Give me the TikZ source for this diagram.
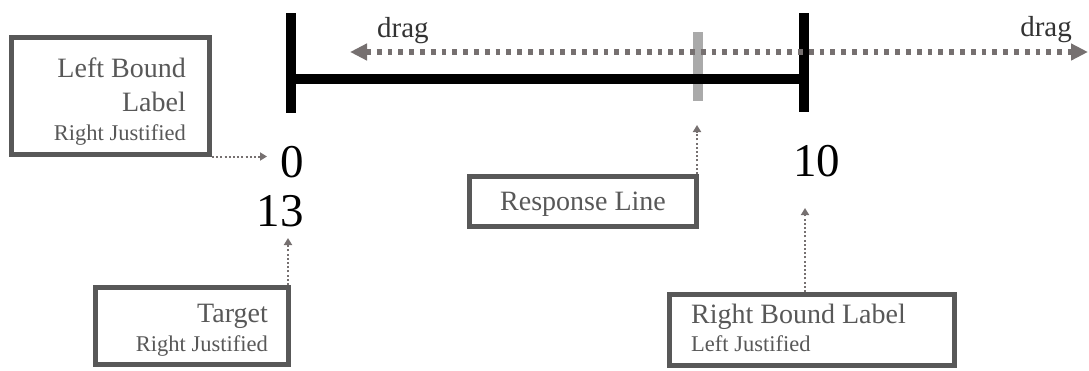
\documentclass[tikz,border=0pt]{standalone}
\usepackage{fontspec}
\setmainfont{Liberation Serif}
\usetikzlibrary{arrows.meta}
\definecolor{boxgray}{RGB}{88,88,88}
\definecolor{txtgray}{RGB}{88,88,88}
\definecolor{arrgray}{RGB}{118,112,112}
\definecolor{respgray}{RGB}{170,170,170}
\begin{document}
\begin{tikzpicture}[x=1pt,y=-1pt,
  labelbox/.style={draw=boxgray, line width=5pt, inner sep=0pt, fill=white},
  lbl/.style={inner sep=0pt, text=txtgray, font=\fontsize{28}{32}\selectfont},
  sublbl/.style={inner sep=0pt, text=txtgray, font=\fontsize{22.5}{26}\selectfont},
  draglbl/.style={inner sep=0pt, text=black!80, font=\fontsize{29}{32}\selectfont},
  num/.style={inner sep=0pt, font=\fontsize{47}{52}\selectfont},
  conn/.style={arrgray, line width=2pt, dash pattern=on 2pt off 2.2pt,
    -{Triangle[length=7pt,width=8pt]}},
  dragarrow/.style={arrgray, line width=5.5pt, dash pattern=on 4.8pt off 6pt,
    {Triangle[length=17pt,width=16pt]}-{Triangle[length=17pt,width=16pt]}},
  scalebar/.style={black, line width=10pt},
  respmark/.style={respgray, line width=10pt},
]
\useasboundingbox (0,0) rectangle (1089,370);

% response marker, drawn beneath the scale bar
\coordinate (resp) at (698,79);
\draw[respmark] (698,32) -- (698,101);

% scale: two end ticks joined by a bar
\coordinate (tickL) at (291,79);
\coordinate (tickR) at (804,79);
\draw[scalebar] (291,13) -- (291,113);
\draw[scalebar] (804,13) -- (804,112);
\draw[scalebar] (tickL) -- (tickR);

% drag arrow
\coordinate (dragL) at (350,52);
\coordinate (dragR) at (1088,52);
\draw[dragarrow] (dragL) -- (dragR);
\node[draglbl, anchor=base west] (dragtxtL) at (377,37) {drag};
\node[draglbl, anchor=base east] (dragtxtR) at (1072,36) {drag};

% bound and target numbers
\node[num, anchor=base east] (zero) at (304,177) {0};
\node[num, anchor=base east] (thirteen) at (304,226) {13};
\node[num, anchor=base west] (ten) at (793,176) {10};

% label boxes
\node[labelbox, minimum width=198pt, minimum height=117pt] (LB) at (110.5,96) {};
\node[lbl, anchor=base east] (LBa) at (186,77) {Left Bound};
\node[lbl, anchor=base east] (LBb) at (186,111) {Label};
\node[sublbl, anchor=base east] (LBc) at (186,140) {Right Justified};

\node[labelbox, minimum width=193pt, minimum height=77pt] (TG) at (192,326) {};
\node[lbl, anchor=base east] (TGa) at (268,322) {Target};
\node[sublbl, anchor=base east] (TGb) at (268,351) {Right Justified};

\node[labelbox, minimum width=227pt, minimum height=50pt] (RL) at (583,201.5) {};
\node[lbl, anchor=base] (RLa) at (583,210) {Response Line};

\node[labelbox, minimum width=285pt, minimum height=71pt] (RB) at (812,330) {};
\node[lbl, anchor=base west] (RBa) at (691,323) {Right Bound Label};
\node[sublbl, anchor=base west] (RBb) at (691,351) {Left Justified};

% connectors from the boxes
\coordinate (zeroTip) at (267,156.5);
\coordinate (thirteenTip) at (288,238);
\coordinate (respTip) at (697,125);
\coordinate (tenTip) at (805,208);
\draw[conn] ([yshift=0.5pt]LB.south east) -- (zeroTip);
\draw[conn] (TG.north east -| thirteenTip) -- (thirteenTip);
\draw[conn] (RL.north east -| respTip) -- (respTip);
\draw[conn] (RB.north -| tenTip) -- (tenTip);
\end{tikzpicture}
\end{document}
